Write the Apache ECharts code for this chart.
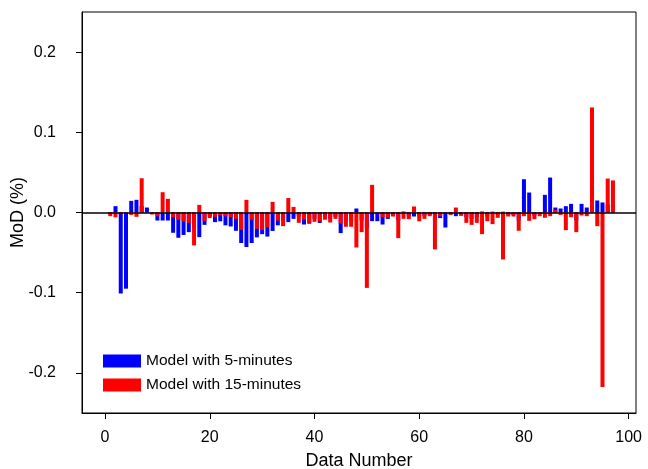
<!DOCTYPE html>
<html>
<head>
<meta charset="utf-8">
<script src="https://cdn.jsdelivr.net/npm/echarts@6/dist/echarts.min.js"></script>
<style>
html, body { margin: 0; padding: 0; background: #fff; }
#chart { width: 648px; height: 469px; }
</style>
</head>
<body>
<div id="chart"></div>
<script>
// values, one per data number (1..97)
const model5min = [
  -0.002, 0.0079, -0.101, -0.095, 0.0145, 0.0158, 0.008, 0.0062, -0.001, -0.01,
  -0.01, -0.01, -0.0253, -0.0315, -0.028, -0.0245, -0.02, -0.0307, -0.0154, -0.005,
  -0.012, -0.011, -0.016, -0.0174, -0.0228, -0.038, -0.043, -0.038, -0.031, -0.027,
  -0.03, -0.023, -0.016, -0.01, -0.012, -0.0079, -0.005, -0.015, -0.014, -0.008,
  -0.013, -0.006, -0.008, -0.005, -0.0257, -0.01, -0.01, 0.005, -0.01, -0.02,
  -0.0108, -0.0108, -0.015, -0.008, -0.003, -0.01, 0.0012, -0.005, -0.005, -0.005,
  -0.004, -0.003, -0.01, -0.007, -0.0187, -0.002, -0.0046, -0.004, -0.006, -0.008,
  -0.006, 0.0012, -0.005, 0.001, -0.003, 0.001, -0.003, -0.003, -0.01, 0.0415,
  0.0249, -0.004, -0.002, 0.022, 0.0436, 0.0062, 0.005, 0.0079, 0.0108, -0.01,
  0.0108, 0.0062, 0.02, 0.015, 0.0125, 0.01, 0.01
]
const model15min = [
  -0.0046, -0.006, -0.002, -0.001, -0.003, -0.0054, 0.0427, 0, -0.0025, -0.0046,
  0.0253, 0.017, -0.006, -0.009, -0.011, -0.0129, -0.041, 0.0095, -0.0104, -0.007,
  -0.0054, -0.0037, -0.0046, -0.0058, -0.0079, -0.0216, 0.0158, -0.009, -0.0203, -0.0216,
  -0.018, 0.0133, -0.01, -0.017, 0.018, 0.007, -0.0129, -0.009, -0.0129, -0.0116,
  -0.011, -0.009, -0.0125, -0.0079, -0.014, -0.0178, -0.0178, -0.0436, -0.0245, -0.094,
  0.0345, -0.002, -0.006, -0.0066, -0.005, -0.032, -0.0079, -0.0083, 0.0075, -0.011,
  -0.0079, -0.0046, -0.046, -0.0046, -0.0012, -0.003, 0.0062, -0.003, -0.0129, -0.0154,
  -0.0129, -0.027, -0.0108, -0.0145, -0.0066, -0.0585, -0.005, -0.005, -0.0228, -0.0046,
  -0.0104, -0.0083, -0.0046, -0.0066, -0.0046, 0.003, -0.003, -0.022, -0.0058, -0.0245,
  -0.0037, -0.0046, 0.131, -0.017, -0.2175, 0.0423, 0.04
]
const xTicks = [0, 20, 40, 60, 80, 100]
const yTicks = [-0.2, -0.1, 0, 0.1, 0.2]

const font = 'Liberation Sans, Arial, sans-serif'
const chart = echarts.init(document.getElementById('chart'))

// x = data number, y = value
const toPairs = arr => arr.map((v, i) => [i + 1, v])

chart.setOption({
  animation: false,
  grid: {
    left: 82, right: 12, top: 12, bottom: 56,
    outerBoundsMode: 'none',
    containLabel: false,
    show: true, borderColor: '#000', borderWidth: 1
  },
  legend: {
    orient: 'vertical',
    left: 98, top: 348,
    itemWidth: 38, itemHeight: 13, itemGap: 8,
    icon: 'rect',
    textStyle: { fontFamily: font, fontSize: 15.5, color: '#000' },
    data: ['Model with 5-minutes', 'Model with 15-minutes']
  },
  xAxis: {
    type: 'value',
    min: -4.4, max: 101.4,
    name: 'Data Number',
    nameLocation: 'middle',
    nameGap: 39,
    nameTextStyle: { fontFamily: font, fontSize: 18, color: '#000' },
    axisLine: { onZero: false, lineStyle: { color: '#000', width: 1 } },
    axisTick: { show: true, length: 6, customValues: xTicks, lineStyle: { color: '#000' } },
    axisLabel: { customValues: xTicks, margin: 17, fontFamily: font, fontSize: 16, color: '#000' },
    splitLine: { show: false }
  },
  yAxis: {
    type: 'value',
    min: -0.25, max: 0.25,
    name: 'MoD (%)',
    nameLocation: 'middle',
    nameGap: 55,
    nameMoveOverlap: false,
    nameTextStyle: { fontFamily: font, fontSize: 18, color: '#000' },
    axisLine: { show: true, onZero: false, lineStyle: { color: '#000', width: 1 } },
    axisTick: { show: true, length: 6, customValues: yTicks, lineStyle: { color: '#000' } },
    axisLabel: {
      customValues: yTicks, margin: 26, fontFamily: font, fontSize: 16, color: '#000',
      formatter: v => v.toFixed(1)
    },
    splitLine: { show: false }
  },
  series: [
    {
      name: 'Model with 5-minutes',
      type: 'bar',
      data: toPairs(model5min),
      barWidth: 4,
      barGap: '-100%',
      itemStyle: { color: '#0000ff' }
    },
    {
      name: 'Model with 15-minutes',
      type: 'bar',
      data: toPairs(model15min),
      barWidth: 4,
      barGap: '-100%',
      itemStyle: { color: '#ff0000' },
      markLine: {
        silent: true,
        symbol: 'none',
        label: { show: false },
        lineStyle: { color: '#000', width: 1.5, type: 'solid' },
        data: [{ yAxis: 0 }]
      }
    }
  ]
})
</script>
</body>
</html>
